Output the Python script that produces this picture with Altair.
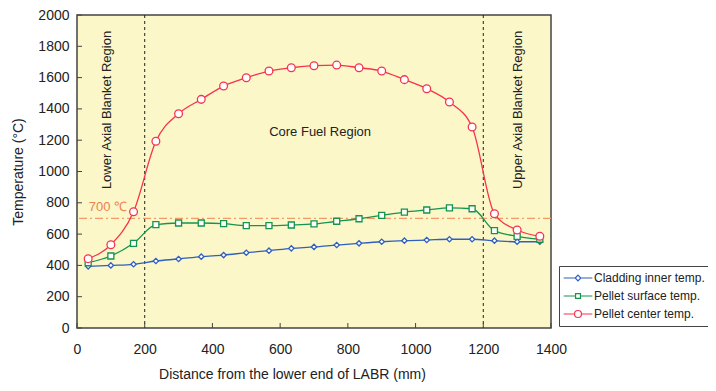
import altair as alt
import pandas as pd

distance = [33, 100, 167, 233, 300, 367, 433, 500, 567, 633, 700, 767, 833,
            900, 967, 1033, 1100, 1167, 1233, 1300, 1367]
cladding = [394, 400, 407, 428, 441, 456, 466, 481, 494, 509, 518, 530, 541,
            551, 558, 562, 567, 567, 558, 551, 551]
surface = [417, 460, 541, 660, 671, 671, 667, 654, 654, 658, 665, 682, 698,
           720, 741, 754, 767, 762, 622, 586, 567]
center = [443, 532, 743, 1193, 1369, 1461, 1546, 1599, 1642, 1663, 1676, 1680, 1663,
          1642, 1587, 1529, 1444, 1284, 730, 626, 586]
series_names = ["Cladding inner temp.", "Pellet surface temp.", "Pellet center temp."]
series_colors = ["#2f5fbf", "#14944c", "#f5334d"]
series_shapes = ["diamond", "square", "circle"]
series_sizes = [28, 36, 60]
legend_paths = [
    "M-4.1,0H-0.8M0.8,0H4.1M0,-0.8L0.8,0L0,0.8L-0.8,0Z",
    "M-4.1,0H-0.7M0.7,0H4.1M-0.7,-0.7H0.7V0.7H-0.7Z",
    "M-4.1,0H-1M1,0H4.1M1,0A1,1,0,1,1,-1,0A1,1,0,1,1,1,0Z",
]
region_bounds = [200, 1200]
limit_value = [700]
x_ticks = [0, 200, 400, 600, 800, 1000, 1200, 1400]
y_ticks = [0, 200, 400, 600, 800, 1000, 1200, 1400, 1600, 1800, 2000]

rows = []
for name, vals in zip(series_names, [cladding, surface, center]):
    for d, v in zip(distance, vals):
        rows.append({"distance": d, "temp": v, "series": name})
df = pd.DataFrame(rows)

FONT = "Liberation Sans"
xs = alt.Scale(domain=[0, 1400], nice=False)
ys = alt.Scale(domain=[0, 2000], nice=False)

x_axis = alt.Axis(values=x_ticks, title="Distance from the lower end of LABR (mm)",
                  format="d", grid=False, ticks=False, labelPadding=14,
                  labelFontSize=14, titleFontSize=14, titlePadding=11,
                  titleFontWeight="normal", labelFont=FONT, titleFont=FONT,
                  domain=False, labelColor="#222", titleColor="#222",
                  titleX=215, labelOverlap=False, labelFlush=False, labelBound=False)
y_axis = alt.Axis(values=y_ticks, title="Temperature (°C)", format="d", grid=False,
                  ticks=False, labelPadding=8, labelFontSize=14, titleFontSize=14,
                  titlePadding=12, titleFontWeight="normal", labelFont=FONT,
                  titleFont=FONT, domain=False, labelColor="#222",
                  titleColor="#222", labelOverlap=False, labelFlush=False, labelBound=False)
X = alt.X("distance:Q", scale=xs, axis=x_axis)
Y = alt.Y("temp:Q", scale=ys, axis=y_axis)

legend_layer = alt.Chart(df).mark_point(filled=False, opacity=0).encode(
    x=X, y=Y,
    color=alt.Color("series:N", scale=alt.Scale(domain=series_names, range=series_colors),
                    legend=alt.Legend(title=None, orient="none", legendX=482, legendY=251,
                                      strokeColor="#444", fillColor="white", padding=6,
                                      labelFontSize=12, labelFont=FONT, labelColor="#222",
                                      symbolStrokeWidth=1.2, symbolFillColor="white",
                                      symbolOpacity=1, symbolSize=49, symbolOffset=7,
                                      labelOffset=10, rowPadding=6)),
    shape=alt.Shape("series:N", scale=alt.Scale(domain=series_names, range=legend_paths)),
)

limit = alt.Chart(pd.DataFrame({"temp": limit_value})).mark_rule(
    color="#f39a6a", strokeWidth=1.2, strokeDash=[8, 3, 2, 3]).encode(y=Y)

bounds = alt.Chart(pd.DataFrame({"distance": region_bounds})).mark_rule(
    color="#222", strokeWidth=1, strokeDash=[3, 3]).encode(x=X)

series_layers = []
for name, col, shp, sz in zip(series_names, series_colors, series_shapes, series_sizes):
    sub = df[df["series"] == name]
    series_layers.append(alt.Chart(sub).mark_line(
        interpolate="monotone", strokeWidth=1.3, color=col).encode(x=X, y=Y))
for name, col, shp, sz in zip(series_names, series_colors, series_shapes, series_sizes):
    sub = df[df["series"] == name]
    series_layers.append(alt.Chart(sub).mark_point(
        filled=False, fill="white", fillOpacity=1, strokeWidth=1.3, size=sz, shape=shp,
        color=col, opacity=1).encode(x=X, y=Y))

limit_text = alt.Chart(pd.DataFrame({"distance": [35], "temp": [770], "t": ["700 ℃"]})).mark_text(
    align="left", color="#f08050", fontSize=13, font=FONT).encode(x=X, y=Y, text="t:N")

labels_df = pd.DataFrame({
    "distance": [718, 88, 1302],
    "temp": [1252, 1393, 1393],
    "t": ["Core Fuel Region", "Lower Axial Blanket Region", "Upper Axial Blanket Region"],
})
core_text = alt.Chart(labels_df.iloc[[0]]).mark_text(fontSize=13, font=FONT, color="#222").encode(
    x=X, y=Y, text="t:N")
side_text = alt.Chart(labels_df.iloc[[1, 2]]).mark_text(fontSize=13, font=FONT, color="#222",
                                                       angle=270).encode(x=X, y=Y, text="t:N")

xt = alt.Chart(pd.DataFrame({"distance": x_ticks})).mark_rule(color="#444").encode(
    x=X, y=alt.value(313), y2=alt.value(308))
yt = alt.Chart(pd.DataFrame({"temp": y_ticks})).mark_rule(color="#444").encode(
    y=Y, x=alt.value(0), x2=alt.value(5))

chart = alt.layer(legend_layer, limit, bounds, *series_layers, limit_text, core_text,
                  side_text, xt, yt).properties(
    width=474, height=313,
    autosize=alt.AutoSizeParams(type="none"),
    padding={"left": 69, "top": 7, "right": 157, "bottom": 54},
).configure_view(fill="#fbf7c9", stroke="#444", strokeWidth=1.5)

chart.save("out.html", embed_options={"renderer": "svg", "actions": False})
